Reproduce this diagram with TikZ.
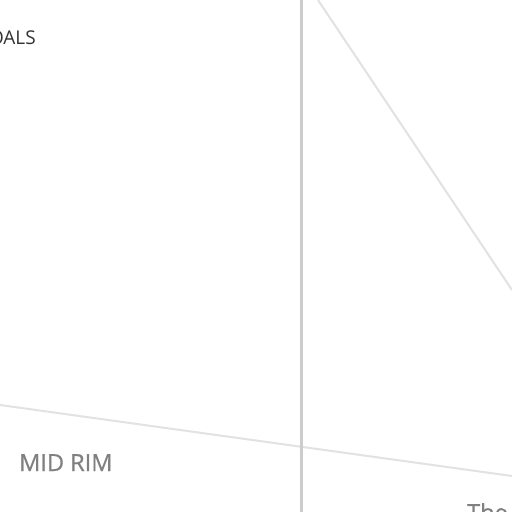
\documentclass[tikz,border=0pt]{standalone}
\usepackage{fontspec}
\setmainfont{Open Sans}
\newfontfamily\midfont[FakeBold=0.6]{Open Sans}
\definecolor{vline}{HTML}{CCCCCC}
\definecolor{dline}{HTML}{E2E2E2}
\definecolor{midgray}{HTML}{808080}
\definecolor{darktext}{HTML}{333333}
\begin{document}
\begin{tikzpicture}[x=1pt,y=-1pt,
  thinline/.style={draw=dline,line width=2pt},
  mainline/.style={draw=vline,line width=3pt},
  lbl/.style={inner sep=0pt,anchor=base west}]
\useasboundingbox (0,0) rectangle (512,512);
\clip (0,0) rectangle (512,512);
\fill[white] (0,0) rectangle (512,512);
\coordinate (v1) at (301,-5);
\coordinate (v2) at (301,517);
\coordinate (d1) at (318,0);
\coordinate (d2) at (512,290);
\coordinate (h1) at (0,405);
\coordinate (h2) at (512,476);
\draw[thinline] (d1) -- (d2);
\draw[thinline] (h1) -- (h2);
\draw[mainline] (v1) -- (v2);
\node[lbl,text=darktext,font=\fontsize{19}{22}\selectfont] (t1) at (-25,44.5) {GOALS};
\node[lbl,text=midgray,font=\midfont\fontsize{23.5}{27}\selectfont] (t2) at (19,471) {MID RIM};
\node[lbl,text=midgray,font=\midfont\fontsize{23.5}{27}\selectfont] (t3) at (467,521) {The};
\end{tikzpicture}
\end{document}
